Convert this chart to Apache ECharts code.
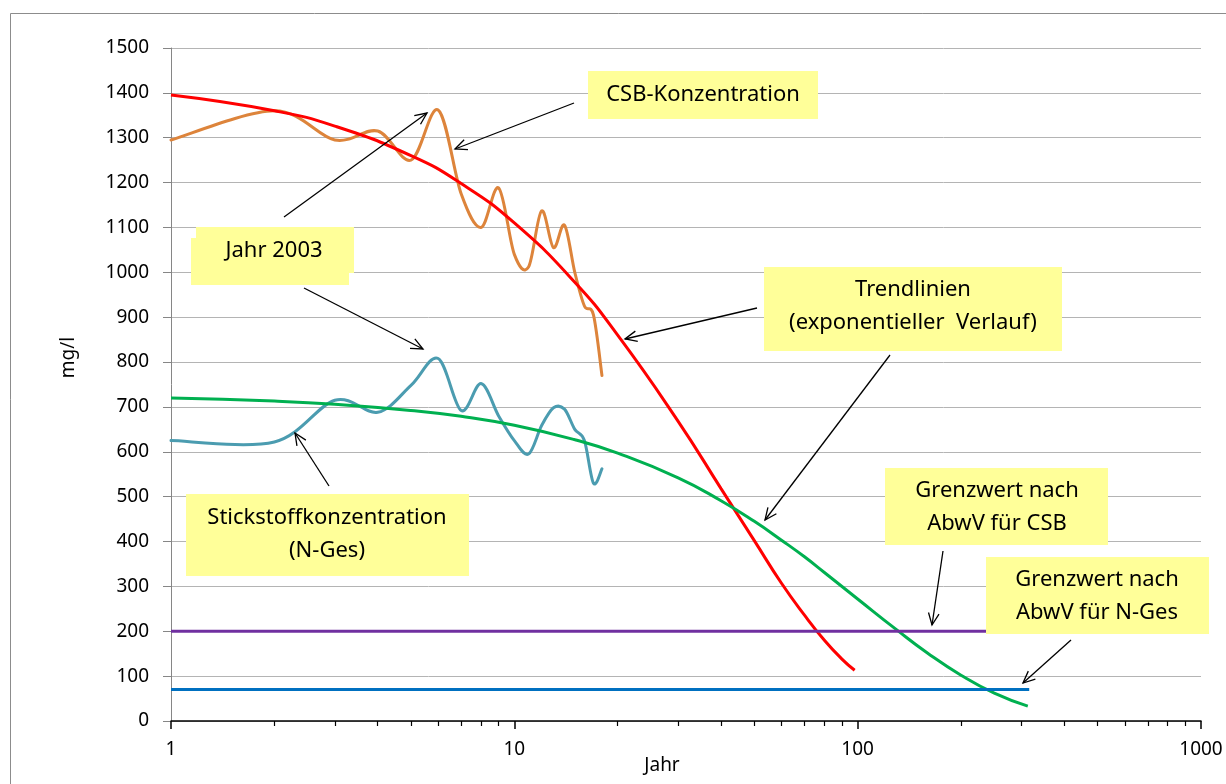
<!DOCTYPE html>
<html>
<head>
<meta charset="utf-8">
<script src="https://cdn.jsdelivr.net/npm/echarts@6/dist/echarts.min.js"></script>
<style>
html, body { margin: 0; padding: 0; background: #fff; }
#main { width: 1226px; height: 784px; }
</style>
</head>
<body>
<div id="main"></div>
<script>
// Messwerte (Jahr 1..18)
var years = [1, 2, 3, 4, 5, 6, 7, 8, 9, 10, 11, 12, 13, 14, 15, 16, 17, 18];
var csb = [1295, 1360, 1295, 1315, 1250, 1362, 1175, 1100, 1188, 1040, 1012, 1137, 1055, 1105, 1000, 925, 905, 770];
var nGes = [625, 622, 715, 688, 748, 808, 692, 752, 680, 625, 595, 658, 698, 695, 650, 625, 530, 562];

// Trendlinien
var trendCsbX = [1, 2, 3, 5, 7, 10, 15, 20, 30, 40, 50, 60, 70, 80, 90, 98];
var trendCsbY = [1395, 1360, 1326, 1260, 1198, 1110, 978, 860, 668, 518, 402, 307, 236, 180, 138, 113];
var trendNX = [1, 2, 3, 5, 7, 10, 15, 20, 30, 40, 50, 60, 70, 80, 100, 130, 160, 200, 250, 313];
var trendNY = [720, 713, 706, 692, 679, 659, 627, 597, 542, 491, 445, 403, 366, 331, 272, 203, 151, 102, 62, 33];

// Grenzwerte nach AbwV
var limitX = [1, 316];
var limitCsb = [200, 200];
var limitN = [70, 70];

function pairs(xs, ys) {
    return xs.map(function (x, i) { return [x, ys[i]]; });
}

var FONT = '"Noto Sans", "Open Sans", sans-serif';

// Excel-artige Glaettung (Catmull-Rom als Bezier)
function smoothPath(pts) {
    var d = 'M' + pts[0][0] + ' ' + pts[0][1];
    for (var i = 0; i < pts.length - 1; i++) {
        var p0 = pts[i - 1] || pts[i], p1 = pts[i], p2 = pts[i + 1], p3 = pts[i + 2] || p2;
        d += ' C' + (p1[0] + (p2[0] - p0[0]) / 6) + ' ' + (p1[1] + (p2[1] - p0[1]) / 6) +
            ' ' + (p2[0] - (p3[0] - p1[0]) / 6) + ' ' + (p2[1] - (p3[1] - p1[1]) / 6) +
            ' ' + p2[0] + ' ' + p2[1];
    }
    return d;
}

function smoothSeries(name, xs, ys, color) {
    var data = pairs(xs, ys);
    return {
        name: name,
        type: 'custom',
        data: data,
        encode: { x: 0, y: 1 },
        renderItem: function (params, api) {
            if (params.dataIndex !== 0) return null;
            var pts = data.map(function (d) { return api.coord(d); });
            return {
                type: 'path',
                shape: { pathData: smoothPath(pts) },
                style: { stroke: color, lineWidth: 3, fill: 'none', lineJoin: 'round', lineCap: 'round' }
            };
        }
    };
}

function arrow(x1, y1, x2, y2) {
    var a = Math.atan2(y2 - y1, x2 - x1), h = 13, w = 0.42;
    return [{
        type: 'line', z: 100, silent: true,
        shape: { x1: x1, y1: y1, x2: x2, y2: y2 },
        style: { stroke: '#000', lineWidth: 1.3 }
    }, {
        type: 'polyline', z: 100, silent: true,
        shape: { points: [
            [x2 - h * Math.cos(a - w), y2 - h * Math.sin(a - w)],
            [x2, y2],
            [x2 - h * Math.cos(a + w), y2 - h * Math.sin(a + w)]
        ] },
        style: { stroke: '#000', lineWidth: 1.3, fill: null }
    }];
}

function box(x, y, w, h) {
    return {
        type: 'rect', z: 90, silent: true,
        shape: { x: x, y: y, width: w, height: h },
        style: { fill: '#ffff99' }
    };
}

function label(cx, cy, txt) {
    return {
        type: 'text', z: 95, silent: true,
        style: {
            text: txt, x: cx, y: cy, align: 'center', verticalAlign: 'middle',
            fontFamily: FONT, fontSize: 22, lineHeight: 33, fill: '#000'
        }
    };
}

var graphics = [{
    type: 'rect', z: 0, silent: true,
    shape: { x: 10.5, y: 13.5, width: 1240, height: 800 },
    style: { fill: 'none', stroke: '#8c8c8c', lineWidth: 1 }
}];

graphics.push(box(588, 71, 230, 48), label(703, 95, 'CSB-Konzentration'));
graphics.push(box(196, 227, 158, 46), box(191, 238, 158, 47), label(274, 251, 'Jahr 2003'));
graphics.push(box(764, 267, 298, 84), label(913, 306, 'Trendlinien\n(exponentieller  Verlauf)'));
graphics.push(box(186, 494, 283, 82), label(327, 534, 'Stickstoffkonzentration\n(N-Ges)'));
graphics.push(box(885, 468, 223, 77), label(997, 507, 'Grenzwert nach\nAbwV für CSB'));
graphics.push(box(986, 557, 223, 77), label(1097, 596, 'Grenzwert nach\nAbwV für N-Ges'));

graphics = graphics.concat(
    arrow(574, 103, 455, 149),
    arrow(284, 217, 427, 113),
    arrow(304, 288, 423, 349),
    arrow(329, 486, 295, 433),
    arrow(757, 308, 625, 339),
    arrow(890, 355, 765, 520),
    arrow(943, 551, 932, 625),
    arrow(1071, 640, 1023, 683)
);

var chart = echarts.init(document.getElementById('main'), null, { renderer: 'canvas' });

var option = {
    animation: false,
    backgroundColor: '#fff',
    grid: { left: 171, right: 25, top: 48, bottom: 63, containLabel: false, outerBoundsMode: 'none' },
    xAxis: {
        type: 'log',
        logBase: 10,
        min: 1,
        max: 1000,
        name: 'Jahr',
        nameLocation: 'middle',
        nameGap: 35,
        nameMoveOverlap: false,
        nameTextStyle: { fontFamily: FONT, fontSize: 19, color: '#000', padding: [0, 48, 0, 0] },
        axisLine: { onZero: false, lineStyle: { color: '#000', width: 1.5 } },
        axisTick: { show: true, length: 8, lineStyle: { color: '#000', width: 1.5 } },
        minorTick: { show: true, splitNumber: 9, length: 5, lineStyle: { color: '#000', width: 1.2 } },
        axisLabel: {
            fontFamily: FONT, fontSize: 19, color: '#000', margin: 19,
            formatter: function (v) { return String(v); }
        },
        splitLine: { show: false },
        minorSplitLine: { show: false }
    },
    yAxis: {
        type: 'value',
        min: 0,
        max: 1500,
        interval: 100,
        name: 'mg/l',
        nameLocation: 'middle',
        nameGap: 93,
        nameRotate: 90,
        nameMoveOverlap: false,
        nameTextStyle: { fontFamily: FONT, fontSize: 19, color: '#000', padding: [0, 0, 0, 54] },
        axisLine: { show: true, lineStyle: { color: '#868686', width: 1 } },
        axisTick: { show: true, length: 8, lineStyle: { color: '#868686' } },
        axisLabel: {
            fontFamily: FONT, fontSize: 19, color: '#000', margin: 22,
            formatter: function (v) { return String(v); }
        },
        splitLine: { show: true, lineStyle: { color: '#b4b4b4', width: 1 } }
    },
    series: [
        smoothSeries('CSB-Konzentration', years, csb, '#dd843b'),
        smoothSeries('Stickstoffkonzentration (N-Ges)', years, nGes, '#4b9cb0'),
    {
        name: 'Trend CSB',
        type: 'line', smooth: true, showSymbol: false,
        lineStyle: { color: '#ff0000', width: 3 },
        data: pairs(trendCsbX, trendCsbY)
    }, {
        name: 'Trend N-Ges',
        type: 'line', smooth: true, showSymbol: false,
        lineStyle: { color: '#00b050', width: 3 },
        data: pairs(trendNX, trendNY)
    }, {
        name: 'Grenzwert CSB',
        type: 'line', showSymbol: false,
        lineStyle: { color: '#7030a0', width: 3 },
        data: pairs(limitX, limitCsb)
    }, {
        name: 'Grenzwert N-Ges',
        type: 'line', showSymbol: false,
        lineStyle: { color: '#0070c0', width: 3 },
        data: pairs(limitX, limitN)
    }],
    graphic: graphics
};

chart.setOption(option);
</script>
</body>
</html>
